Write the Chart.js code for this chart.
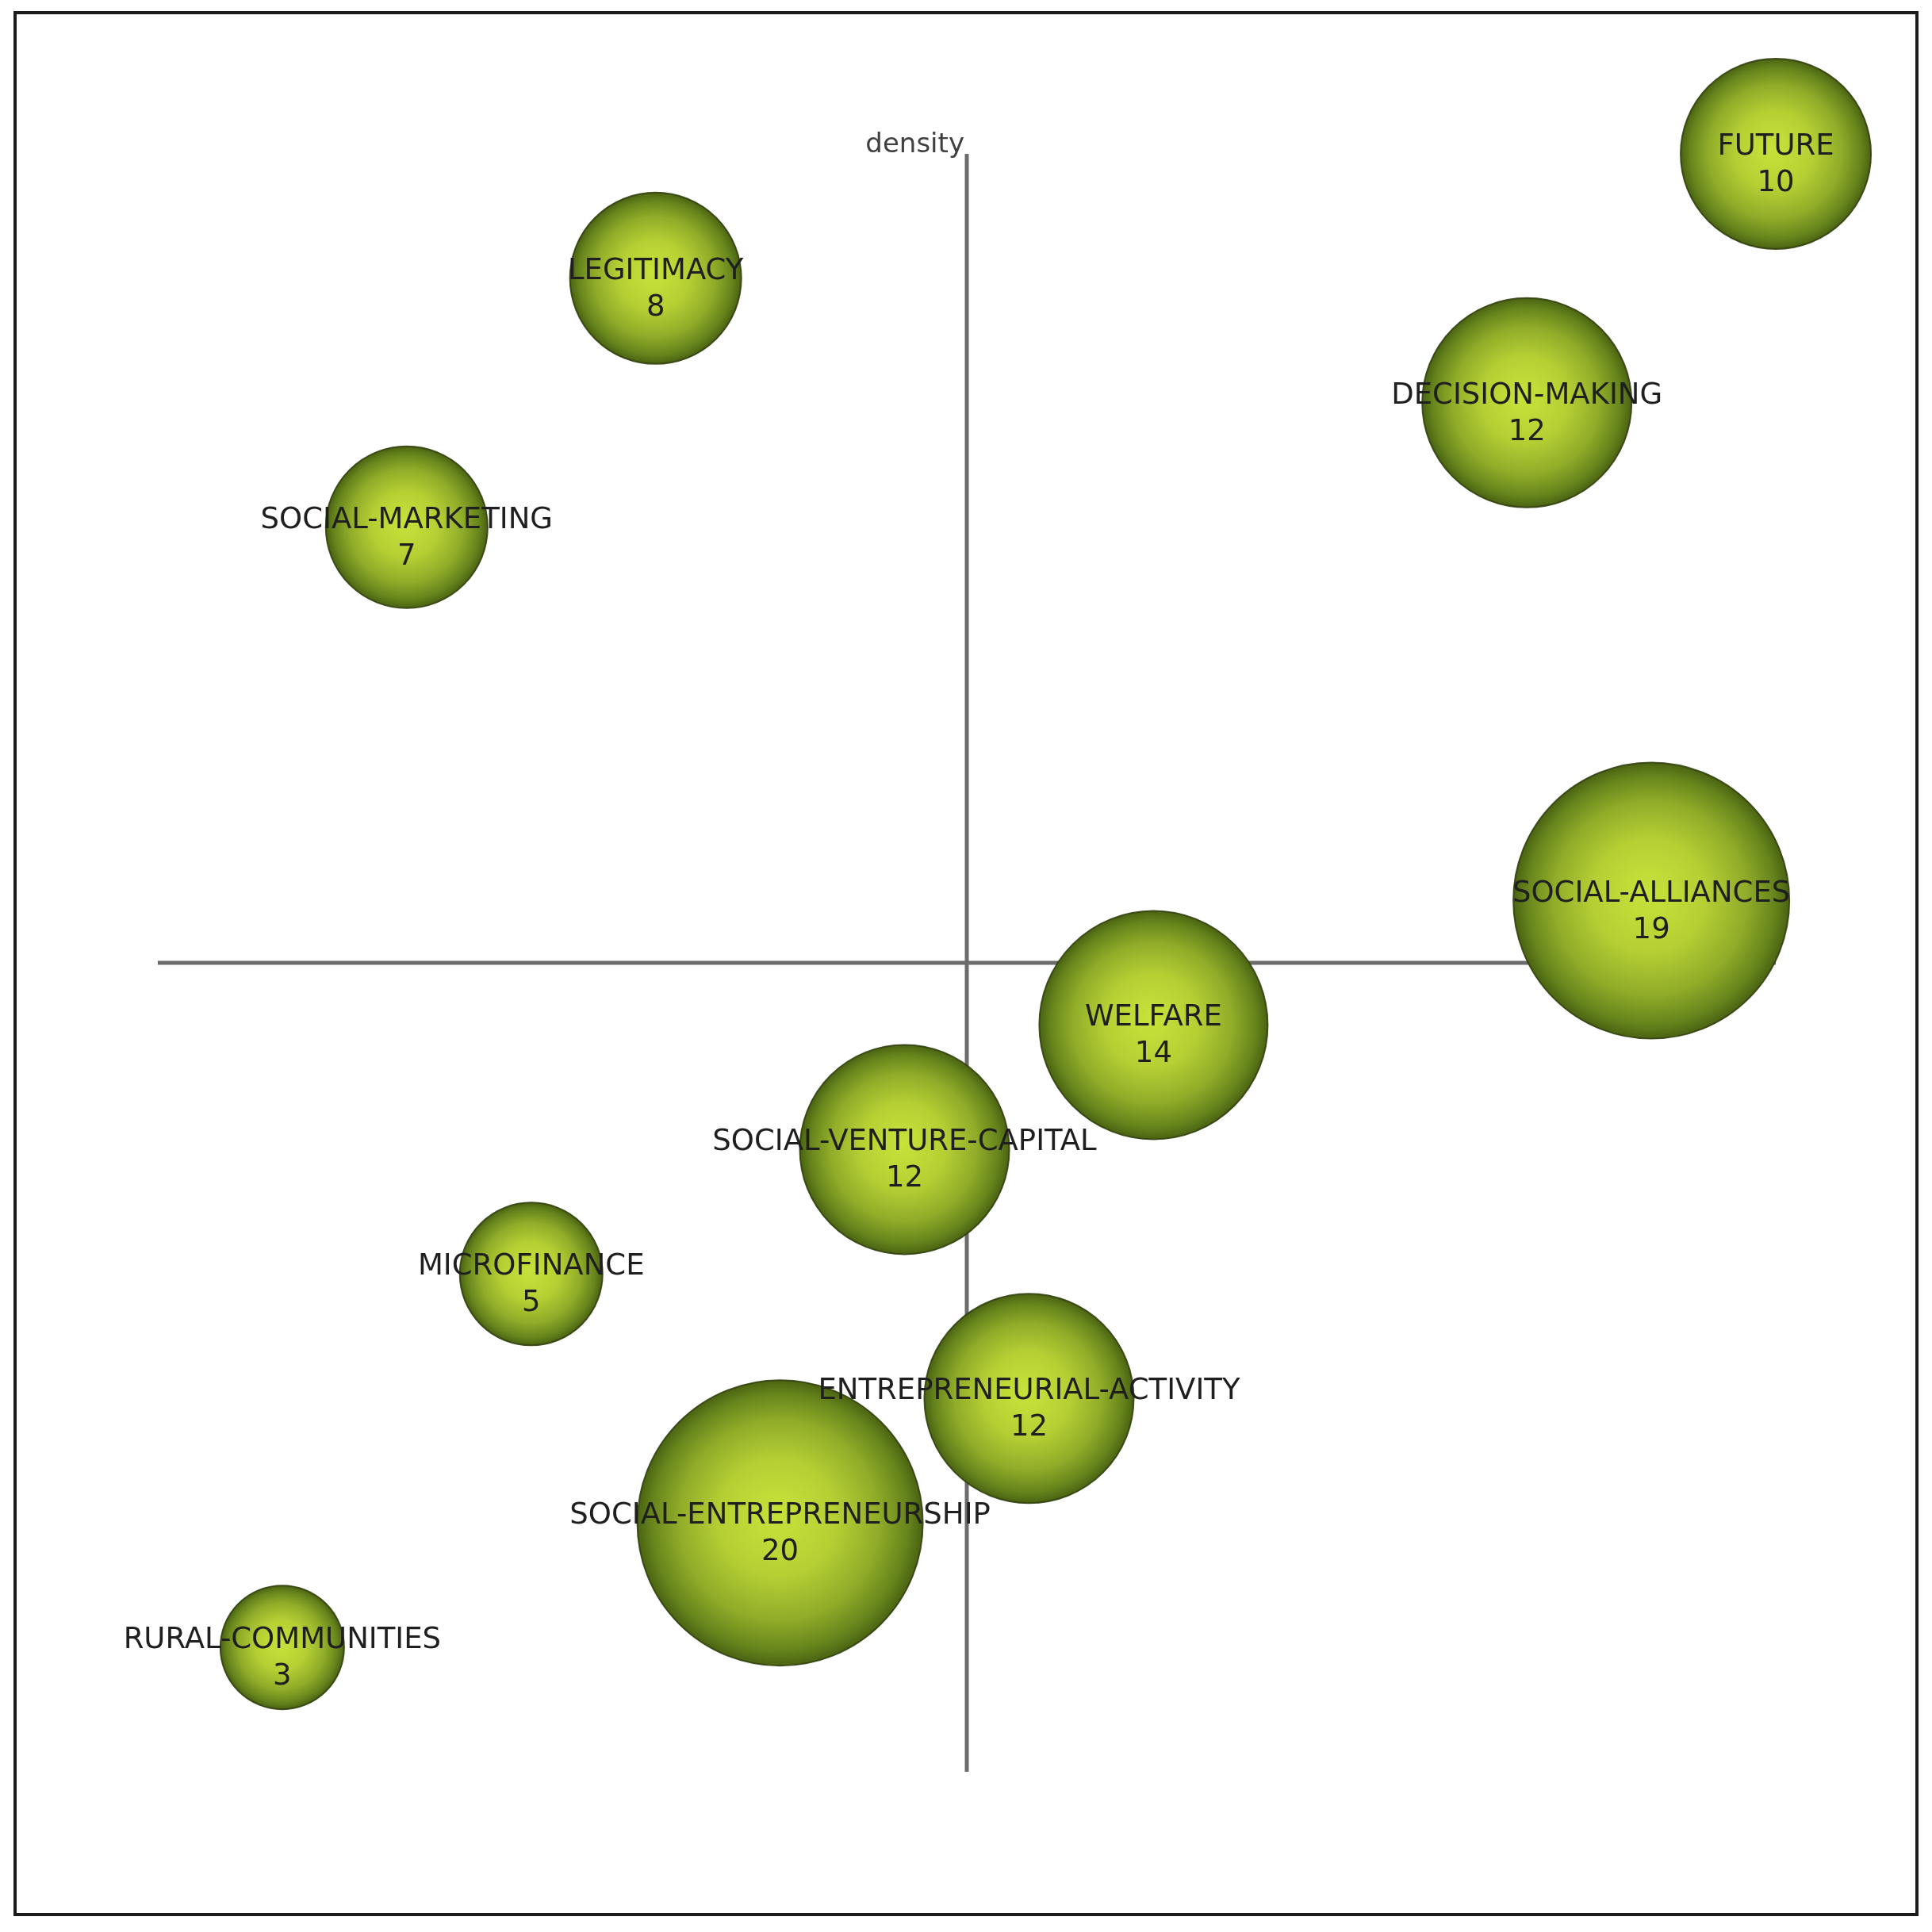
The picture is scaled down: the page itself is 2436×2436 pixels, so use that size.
<!DOCTYPE html>
<html>
<head>
<meta charset="utf-8">
<script src="https://cdn.jsdelivr.net/npm/chart.js@4.4.1/dist/chart.umd.min.js"></script>
<style>
  html, body { margin: 0; padding: 0; background: #fff; }
  #wrap { width: 2436px; height: 2436px; position: relative; }
</style>
</head>
<body>
<div id="wrap"><canvas id="diagram"></canvas></div>
<script>
// Strategic diagram: themes placed by centrality / density rank
const themes = ['FUTURE', 'LEGITIMACY', 'DECISION-MAKING', 'SOCIAL-MARKETING', 'SOCIAL-ALLIANCES',
  'WELFARE', 'SOCIAL-VENTURE-CAPITAL', 'MICROFINANCE', 'ENTREPRENEURIAL-ACTIVITY',
  'SOCIAL-ENTREPRENEURSHIP', 'RURAL-COMMUNITIES'];
const centrality = [12, 3, 10, 1, 11, 7, 5, 2, 6, 4, 0];
const density = [12, 11, 10, 9, 6, 5, 4, 3, 2, 1, 0];
const documents = [10, 8, 12, 7, 19, 14, 12, 5, 12, 20, 3];

// quadrant axes (crossing at the median rank)
const axisCross = 5.5;
const axisFrom = -1;
const axisTo = 12;
const yAxisLabel = 'density';

const points = themes.map((t, i) => ({ x: centrality[i], y: density[i] }));

function bubbleFill(ctx) {
  const chart = ctx.chart;
  if (!chart.chartArea || !ctx.raw) return '#a8c230';
  const cx = chart.scales.x.getPixelForValue(ctx.raw.x);
  const cy = chart.scales.y.getPixelForValue(ctx.raw.y);
  const r = 60 + 6 * documents[ctx.dataIndex];
  const g = chart.ctx.createRadialGradient(cx - 0.03 * r, cy - 0.06 * r, 0, cx, cy, r);
  g.addColorStop(0, '#c8e23a');
  g.addColorStop(0.4, '#b6d034');
  g.addColorStop(0.7, '#90ac29');
  g.addColorStop(0.9, '#66841c');
  g.addColorStop(1, '#4a6312');
  return g;
}

const framePlugin = {
  id: 'frame',
  beforeDraw(chart) {
    const c = chart.ctx;
    c.save();
    c.fillStyle = '#fff';
    c.fillRect(0, 0, chart.width, chart.height);
    c.strokeStyle = '#1c1c1c';
    c.lineWidth = 4;
    c.strokeRect(19, 16, 2398, 2398);
    c.restore();
  }
};

const labelPlugin = {
  id: 'themeLabels',
  afterDatasetsDraw(chart) {
    const c = chart.ctx;
    const xs = chart.scales.x, ys = chart.scales.y;
    c.save();
    // axis title at the top of the vertical line
    c.font = '34px "DejaVu Sans"';
    c.fillStyle = '#404040';
    c.textAlign = 'right';
    c.textBaseline = 'alphabetic';
    c.fillText(yAxisLabel, xs.getPixelForValue(axisCross) - 3, ys.getPixelForValue(axisTo) - 2);

    const meta = chart.getDatasetMeta(2);
    c.font = '37px "DejaVu Sans"';
    c.fillStyle = '#1f1f1f';
    c.textAlign = 'center';
    meta.data.forEach((el, i) => {
      c.fillText(themes[i], el.x, el.y + 1);
      c.fillText(String(documents[i]), el.x, el.y + 47);
    });
    c.restore();
  }
};

new Chart(document.getElementById('diagram'), {
  type: 'bubble',
  data: {
    datasets: [
      {
        type: 'line',
        data: [{ x: axisFrom, y: axisCross }, { x: axisTo, y: axisCross }],
        borderColor: '#6c6c6c',
        borderWidth: 5,
        pointRadius: 0,
        order: 3
      },
      {
        type: 'line',
        data: [{ x: axisCross, y: axisFrom }, { x: axisCross, y: axisTo }],
        borderColor: '#6c6c6c',
        borderWidth: 5,
        pointRadius: 0,
        order: 3
      },
      {
        data: points,
        radius: ctx => 60 + 6 * documents[ctx.dataIndex],
        hoverRadius: 0,
        backgroundColor: bubbleFill,
        borderColor: 'rgba(50, 64, 14, 0.9)',
        borderWidth: 2,
        clip: false,
        order: 1
      }
    ]
  },
  options: {
    responsive: true,
    maintainAspectRatio: false,
    animation: false,
    events: [],
    layout: {
      autoPadding: false,
      padding: { left: 42, right: 40, top: 37, bottom: 45 }
    },
    scales: {
      x: { type: 'linear', min: -2, max: 13, display: false },
      y: { type: 'linear', min: -2, max: 13, display: false }
    },
    plugins: {
      legend: { display: false },
      tooltip: { enabled: false }
    }
  },
  plugins: [framePlugin, labelPlugin]
});
</script>
</body>
</html>
